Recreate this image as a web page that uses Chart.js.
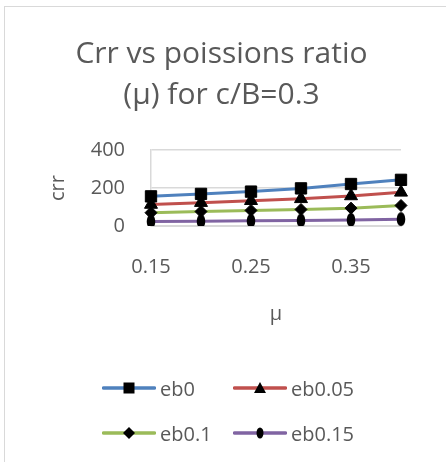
<!DOCTYPE html>
<html><head><meta charset="utf-8">
<script src="https://cdn.jsdelivr.net/npm/chart.js@4"></script>
<style>
html,body{margin:0;padding:0;background:#fff;width:446px;height:462px;overflow:hidden;}
#frame{position:absolute;left:4px;top:6px;width:460px;height:470px;border-left:1px solid #d9d9d9;border-top:1px solid #d9d9d9;box-sizing:border-box;}
#c{position:absolute;left:0;top:0;}
#legend{position:absolute;left:0;top:0;width:446px;height:462px;font-family:'Open Sans';font-size:20px;color:#595959;}
.item{position:absolute;display:flex;align-items:center;height:26px;white-space:nowrap;}
.item svg{margin-right:4px;}
</style>
</head><body>
<div id="frame"></div>
<canvas id="c" width="446" height="340"></canvas>
<div id="legend"></div>
<script>
const categories = ['0.15','0.2','0.25','0.3','0.35','0.4'];
const shownXLabels = ['0.15','0.25','0.35'];
const eb0   = [156,169,181,198,221,243];
const eb005 = [113,123,133,143,158,177];
const eb01  = [70,76,82,87,94,108];
const eb015 = [24,25,27,29,32,36];
const seriesNames = ['eb0','eb0.05','eb0.1','eb0.15'];
const seriesColors = ['#4F81BD','#C0504D','#9BBB59','#8064A2'];
const yTickValues = [0,200,400];
const titleLines = ['Crr vs poissions ratio','(\u03bc) for c/B=0.3'];
const xTitle = '\u03bc';
const yTitle = 'crr';

const textColor = '#595959';
const fontFam = "'Open Sans'";

// ellipse marker image
const ell = document.createElement('canvas');
ell.width = 10; ell.height = 16;
{const g = ell.getContext('2d'); g.fillStyle='#000'; g.beginPath(); g.ellipse(5,8,4.3,7,0,0,Math.PI*2); g.fill();}

const markers = ['rect','triangle','rectRot',ell];
const radii = [8,7.5,6,6];
const allSeries = [eb0,eb005,eb01,eb015];

const datasets = allSeries.map((d,i)=>({
  label: seriesNames[i],
  data: d,
  borderColor: seriesColors[i],
  backgroundColor: seriesColors[i],
  borderWidth: 3,
  tension: 0,
  pointStyle: markers[i],
  pointRadius: radii[i],
  pointHoverRadius: radii[i],
  pointBackgroundColor: '#000',
  pointBorderColor: '#000',
  pointBorderWidth: 1
}));

new Chart(document.getElementById('c'), {
  type: 'line',
  data: {labels: categories, datasets},
  options: {
    responsive: false,
    animation: false,
    layout: {padding: {left: 42, right: 45, top: 0, bottom: 10}},
    plugins: {
      legend: {display: false},
      tooltip: {enabled: false},
      title: {
        display: true,
        text: titleLines,
        color: textColor,
        font: {family: fontFam, size: 30, weight: 'normal', lineHeight: 41/30},
        padding: {top: 34, bottom: 34}
      }
    },
    scales: {
      x: {
        offset: false,
        grid: {display: false, drawTicks: false},
        border: {display: true, color: '#d9d9d9', width: 1},
        ticks: {
          autoSkip: false, maxRotation: 0, padding: 29,
          color: textColor, font: {family: fontFam, size: 20},
          callback: function(v){ const l = this.getLabelForValue(v); return shownXLabels.includes(l) ? l : ''; }
        },
        title: {display: true, text: xTitle, color: textColor, font: {family: fontFam, size: 20}},
        afterFit: s => { s.height = 104; }
      },
      y: {
        min: 0, max: 400,
        afterBuildTicks: s => { s.ticks = yTickValues.map(v=>({value:v})); },
        grid: {color: '#d9d9d9', lineWidth: 1.5, drawTicks: false},
        border: {display: true, color: '#d9d9d9', width: 1.5},
        ticks: {padding: 26, color: textColor, font: {family: fontFam, size: 20}},
        title: {display: true, text: yTitle, color: textColor, font: {family: fontFam, size: 20}},
        afterFit: s => { s.width = 109; }
      }
    }
  }
});

// legend (HTML)
const legendCols = [102, 233];
const legendRows = [388, 433];
const leg = document.getElementById('legend');
seriesNames.forEach((name,i)=>{
  const col = i % 2, row = Math.floor(i/2);
  const c = seriesColors[i];
  let m = '';
  if (i===0) m = '<rect x="21.5" y="2.5" width="11" height="11" fill="#000"/>';
  else if (i===1) m = '<polygon points="27,2 33,13 21,13" fill="#000"/>';
  else if (i===2) m = '<polygon points="27,2 33,8 27,14 21,8" fill="#000"/>';
  else m = '<ellipse cx="27" cy="8" rx="3.5" ry="5.5" fill="#000"/>';
  const div = document.createElement('div');
  div.className = 'item';
  div.style.left = legendCols[col] + 'px';
  div.style.top = (legendRows[row] - 13) + 'px';
  div.innerHTML = '<svg width="54" height="16" viewBox="0 0 54 16"><line x1="1.5" y1="8" x2="52.5" y2="8" stroke="'+c+'" stroke-width="3.5" stroke-linecap="round"/>'+m+'</svg><span>'+name+'</span>';
  leg.appendChild(div);
});
</script>
</body></html>
